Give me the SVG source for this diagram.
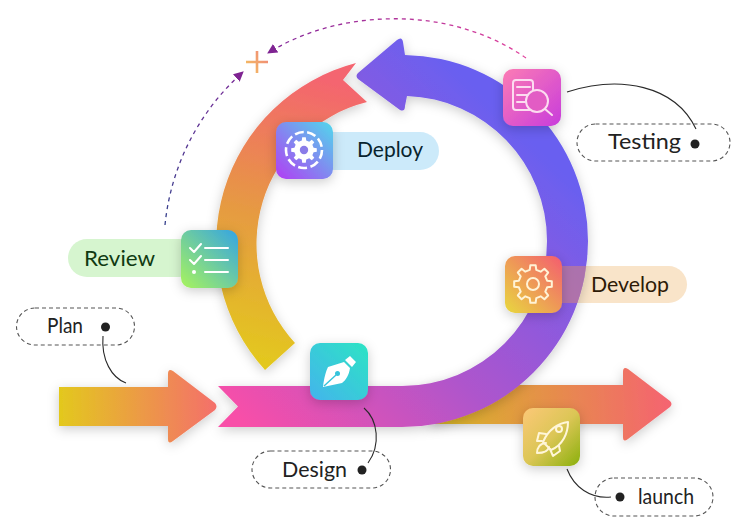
<svg xmlns="http://www.w3.org/2000/svg" xmlns:xlink="http://www.w3.org/1999/xlink" width="746" height="528" viewBox="0 0 746 528">
<style>
.lbl{font-family:"Lato","Open Sans",sans-serif;font-size:21px;fill:#222}
.dash{fill:#fff;fill-opacity:0;stroke:#555;stroke-width:1.1;stroke-dasharray:4 3}
.dot{fill:#222}
.call{fill:none;stroke:#2a2a2a;stroke-width:1.1}
.ico{fill:none;stroke-width:2;stroke-linecap:round;stroke-linejoin:round}
.tile{filter:url(#sh)}
</style>
<defs>
<filter id="sh" x="-30%" y="-30%" width="160%" height="160%"><feDropShadow dx="0" dy="3" stdDeviation="6" flood-color="#000" flood-opacity=".2"/></filter>
<linearGradient id="gRing" gradientUnits="userSpaceOnUse" x1="240" y1="420" x2="520" y2="130"><stop offset="0" stop-color="#f84fa8"/><stop offset=".45" stop-color="#ae55cc"/><stop offset="1" stop-color="#695ff0"/></linearGradient>
<linearGradient id="gArc" gradientUnits="userSpaceOnUse" x1="270" y1="365" x2="340" y2="85"><stop offset="0" stop-color="#e3c81e"/><stop offset=".5" stop-color="#e69a42"/><stop offset="1" stop-color="#f4656f"/></linearGradient>
<linearGradient id="gPlan" gradientUnits="userSpaceOnUse" x1="60" y1="410" x2="215" y2="405"><stop offset="0" stop-color="#e3c81e"/><stop offset="1" stop-color="#f4706a"/></linearGradient>
<linearGradient id="gLaunch" gradientUnits="userSpaceOnUse" x1="445" y1="420" x2="665" y2="405"><stop offset="0" stop-color="#d8b428"/><stop offset="1" stop-color="#f4656f"/></linearGradient>
<linearGradient id="gReview" x1="0" y1="1" x2="1" y2="0"><stop offset="0" stop-color="#a8f45c"/><stop offset="1" stop-color="#34a4e4"/></linearGradient>
<linearGradient id="gDesign" x1="0" y1="1" x2="1" y2="0"><stop offset="0" stop-color="#44b4ec"/><stop offset="1" stop-color="#2ce4c4"/></linearGradient>
<linearGradient id="gDevelop" x1="0" y1="1" x2="1" y2="0"><stop offset="0" stop-color="#e8d83e"/><stop offset="1" stop-color="#f45c70"/></linearGradient>
<linearGradient id="gRocket" x1="0" y1="0" x2="1" y2="1"><stop offset="0" stop-color="#fcc878"/><stop offset=".5" stop-color="#dcc656"/><stop offset="1" stop-color="#8ab00c"/></linearGradient>
<linearGradient id="gDeploy" x1="0" y1="1" x2="1" y2="0"><stop offset="0" stop-color="#b23cf4"/><stop offset="1" stop-color="#50d8ec"/></linearGradient>
<linearGradient id="gTest" x1="0" y1="0" x2="1" y2="1"><stop offset="0" stop-color="#fc7cb4"/><stop offset="1" stop-color="#c83cdc"/></linearGradient>
<linearGradient id="gDash1" gradientUnits="userSpaceOnUse" x1="165" y1="225" x2="243" y2="72"><stop offset="0" stop-color="#34408c"/><stop offset="1" stop-color="#7a2a98"/></linearGradient>
<linearGradient id="gDash2" gradientUnits="userSpaceOnUse" x1="526" y1="58" x2="268" y2="53"><stop offset="0" stop-color="#e0409c"/><stop offset="1" stop-color="#82289a"/></linearGradient>
<linearGradient id="gPlus" gradientUnits="userSpaceOnUse" x1="246" y1="70" x2="268" y2="55"><stop offset="0" stop-color="#f4c060"/><stop offset="1" stop-color="#f08878"/></linearGradient>
<marker id="ah" viewBox="0 0 10 10" refX="9" refY="5" markerWidth="10" markerHeight="10" markerUnits="userSpaceOnUse" orient="auto"><path d="M0 0L10 5L0 10Z" fill="#7f2492"/></marker>
<path id="ring" d="M218 386H402A145 145 0 0 0 547 241A145 145 0 0 0 407 96L405 106Q405 112 400 110L358 79Q355 76 358 73L397 40Q402 36 403 42L405 55A186 186 0 0 1 588 241A186 186 0 0 1 402 427H218L238 406.5Z"/>
<clipPath id="ringClip"><use href="#ring"/></clipPath>
<path id="gear" d="M14.13-3.26L18.81-2.64L18.81 2.64L14.13 3.26L12.3 7.68L15.17 11.43L11.43 15.17L7.68 12.3L3.26 14.13L2.64 18.81L-2.64 18.81L-3.26 14.13L-7.68 12.3L-11.43 15.17L-15.17 11.43L-12.3 7.68L-14.13 3.26L-18.81 2.64L-18.81-2.64L-14.13-3.26L-12.3-7.68L-15.17-11.43L-11.43-15.17L-7.68-12.3L-3.26-14.13L-2.64-18.81L2.64-18.81L3.26-14.13L7.68-12.3L11.43-15.17L15.17-11.43L12.3-7.68Z"/>
</defs>

<g id="bands">
<path id="band-launch" filter="url(#sh)" fill="url(#gLaunch)" d="M430 385H623V372Q623 366 628 369L670 401Q673 404 670 407L628 439Q623 443 623 437V424H430Z"/>
<rect id="pill-develop-back" x="555" y="266" width="132" height="37" rx="18.5" fill="#f9e4c9"/>
<use id="band-ring" href="#ring" filter="url(#sh)" fill="url(#gRing)"/>
<path id="band-arc" filter="url(#sh)" fill="url(#gArc)" d="M265 370A187 187 0 0 1 356 63L343 80L367 102A146.500 146.500 0 0 0 295 343Z"/>
<path id="band-plan" filter="url(#sh)" fill="url(#gPlan)" d="M59 387H168V374Q168 368 173 371L215 403Q218 406.5 215 410L173 441Q168 445 168 439V426H59Z"/>
<rect x="555" y="266" width="40" height="37" fill="#dc8773" opacity=".5" clip-path="url(#ringClip)"/>
</g>

<g id="connectors">
<path d="M165 225A236 236 0 0 1 243 72" fill="none" stroke="url(#gDash1)" stroke-width="1.3" stroke-dasharray="4 4" marker-end="url(#ah)"/>
<path d="M526 58C450 5 340 8 268 53" fill="none" stroke="url(#gDash2)" stroke-width="1.3" stroke-dasharray="4 4" marker-end="url(#ah)"/>
<path class="call" d="M103 336C101 360 112 378 126 383"/>
<path class="call" d="M364 408C378 420 381 445 368 463"/>
<path class="call" d="M567 469C574 487 590 499 611 497"/>
<path class="call" d="M567 92C620 75 675 85 696 129"/>
</g>

<g id="plus"><path d="M246 62H268M257 51V73" fill="none" stroke="url(#gPlus)" stroke-width="2.6"/></g>

<g id="node-plan">
<rect class="dash" x="16.500" y="308" width="118" height="37" rx="18.500"/>
<text class="lbl" x="47" y="333" textLength="36" lengthAdjust="spacingAndGlyphs">Plan</text>
<circle class="dot" cx="105.500" cy="327" r="4.500"/>
</g>

<g id="node-review">
<rect x="68" y="239" width="130" height="38" rx="19" fill="#d6f5cf"/>
<text class="lbl" x="84" y="266" textLength="71" lengthAdjust="spacingAndGlyphs" style="fill:#103a12">Review</text>
<rect class="tile" x="181" y="230" width="57" height="58" rx="10" fill="url(#gReview)"/>
<path class="ico" stroke="#fff" d="M205 248H228M205 260H228M205 272H228M190 248L194 252L201 244M190 260L194 264L201 256"/>
<circle cx="194" cy="272" r="2" fill="#fff"/>
</g>

<g id="node-design">
<rect class="tile" x="310" y="343" width="58" height="57" rx="10" fill="url(#gDesign)"/>
<path fill="#fff" d="M345 360L350 356L356 362L352 367ZM344 362L350 368C349 375 346 380 342 383L323 387C324 378 326 371 328 367Z"/>
<path d="M324 386L336 375" stroke="#35c4dc" stroke-width="1.4"/>
<circle cx="337.500" cy="373.500" r="2.500" fill="#35c4dc"/>
<rect class="dash" x="252" y="451" width="138.500" height="37" rx="18.500"/>
<text class="lbl" x="282" y="477" textLength="65" lengthAdjust="spacingAndGlyphs">Design</text>
<circle class="dot" cx="362" cy="470" r="4.500"/>
</g>

<g id="node-develop">
<rect class="tile" x="505" y="256" width="57" height="57" rx="10" fill="url(#gDevelop)"/>
<use href="#gear" x="533" y="284" class="ico" fill="none" stroke="#fff3d6"/>
<circle cx="533" cy="284" r="6" class="ico" stroke="#fff3d6"/>
<text class="lbl" x="591" y="292" textLength="78" lengthAdjust="spacingAndGlyphs" style="fill:#2e1a06">Develop</text>
</g>

<g id="node-launch">
<rect class="tile" x="523" y="408" width="57" height="58" rx="10" fill="url(#gRocket)"/>
<g class="ico" stroke="#fff6d8" stroke-width="1.800">
<path d="M568 422C558 423 548 430 543 442L551 450C563 445 568 433 568 422Z"/>
<circle cx="559" cy="429" r="3"/>
<path d="M546 434L539 433L537 441L542 441M559 446L560 451L553 456L550 449M546 443C540 443 537 448 537 453C542 453 548 452 549 447"/>
</g>
<rect class="dash" x="595" y="478" width="118" height="38" rx="19"/>
<circle class="dot" cx="620" cy="497" r="4.500"/>
<text class="lbl" x="638" y="504" textLength="56" lengthAdjust="spacingAndGlyphs">launch</text>
</g>

<g id="node-deploy">
<rect x="315" y="132" width="124" height="38" rx="19" fill="#cceafa"/>
<rect class="tile" x="276" y="122" width="57" height="57" rx="10" fill="url(#gDeploy)"/>
<use href="#gear" transform="translate(304 150) scale(.68)" fill="#fff"/>
<circle cx="304" cy="150" r="4.200" fill="#8a7ce8"/>
<circle cx="304" cy="150" r="18" fill="none" stroke="#fff" stroke-width="2.600" stroke-dasharray="9 3.500"/>
<text class="lbl" x="357" y="157" textLength="66" lengthAdjust="spacingAndGlyphs" style="fill:#08242e">Deploy</text>
</g>

<g id="node-testing">
<rect class="tile" x="503" y="69" width="58" height="57" rx="10" fill="url(#gTest)"/>
<g class="ico" stroke="#fcdcf0" stroke-width="1.800">
<rect x="513" y="80" width="20" height="30" rx="3"/>
<path d="M517 87H530M517 95H530M517 102H525M545 109L552 115"/>
<circle cx="537" cy="101" r="11" fill="#e25cc4"/>
</g>
<rect class="dash" x="577" y="124" width="153" height="37" rx="18.500"/>
<text class="lbl" x="608" y="149" textLength="73" lengthAdjust="spacingAndGlyphs">Testing</text>
<circle class="dot" cx="695" cy="144" r="4.500"/>
</g>
</svg>
